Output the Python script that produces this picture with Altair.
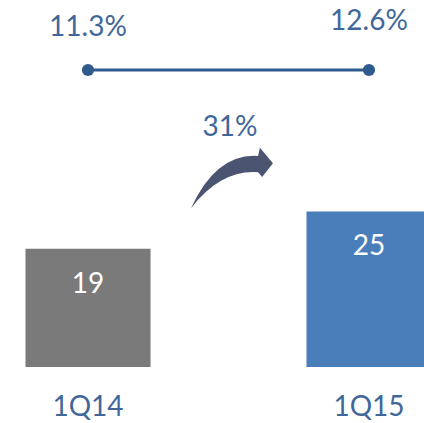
import altair as alt
import pandas as pd

# ---- data ----
categories = ["1Q14", "1Q15"]
volumes = [19, 25]
rates = [11.3, 12.6]
rate_labels = ["11.3%", "12.6%"]
growth_label = ["31%"]
bar_colors = ["#7a7a7a", "#4a7ebb"]

df = pd.DataFrame({
    "category": categories,
    "volume": volumes,
    "rate": rates,
    "rate_label": rate_labels,
})
growth_df = pd.DataFrame({"label": growth_label})

FONT = "Lato"
FS = 28
TEXT_BLUE = "#41679a"
LINE_BLUE = "#2f5a8e"

x_scale = alt.Scale(domain=categories, range=[25.5, 431.5],
                    paddingInner=0.555, paddingOuter=0)
y_scale = alt.Scale(domain=[0, 59], range=[367, 0], nice=False, zero=True)

X = alt.X("category:N", scale=x_scale, axis=None)

base = alt.Chart(df)

bars = base.mark_bar().encode(
    x=X,
    y=alt.Y("volume:Q", scale=y_scale, axis=None),
    color=alt.Color("category:N", scale=alt.Scale(domain=categories, range=bar_colors), legend=None),
)

bar_labels = base.mark_text(color="white", font=FONT, fontSize=FS, baseline="middle", dy=36).encode(
    x=X,
    y=alt.Y("volume:Q", scale=y_scale, axis=None),
    text=alt.Text("volume:Q"),
)

cat_labels = base.mark_text(color=TEXT_BLUE, font=FONT, fontSize=FS, baseline="middle").encode(
    x=X,
    y=alt.value(408),
    text="category:N",
)

line = base.mark_line(color=LINE_BLUE, strokeWidth=3).encode(
    x=X,
    y=alt.value(70),
)

dots = base.mark_circle(color=LINE_BLUE, size=150, opacity=1).encode(
    x=X,
    y=alt.value(70),
)

rate_text = base.mark_text(color=TEXT_BLUE, font=FONT, fontSize=FS, baseline="middle").encode(
    x=X,
    y=alt.Y("rate:Q", scale=alt.Scale(domain=[11.3, 12.6], range=[28, 22], zero=False, nice=False), axis=None),
    text="rate_label:N",
)

growth_text = alt.Chart(growth_df).mark_text(color=TEXT_BLUE, font=FONT, fontSize=FS, baseline="middle").encode(
    x=alt.value(230),
    y=alt.value(128),
    text="label:N",
)

arrow_path = ("M -0.91 0.67 Q -0.35 -0.55 0.58 -0.49 L 0.62 -0.67 L 0.91 -0.33 "
              "L 0.67 -0.02 L 0.58 -0.13 Q -0.25 -0.19 -0.91 0.67 Z")

arrow = alt.Chart(growth_df).mark_point(
    shape=arrow_path, filled=True, size=8100, color="#4b5470", opacity=1, strokeWidth=0
).encode(
    x=alt.value(232),
    y=alt.value(178),
)

chart = alt.layer(
    bars, bar_labels, cat_labels, line, dots, rate_text, growth_text, arrow
).resolve_scale(y="independent").properties(
    width=424, height=423, padding=0, autosize=alt.AutoSizeParams(type="none"),
    background="white",
).configure_view(stroke=None)

chart.save("out.html", embed_options={"renderer": "svg", "actions": False})
